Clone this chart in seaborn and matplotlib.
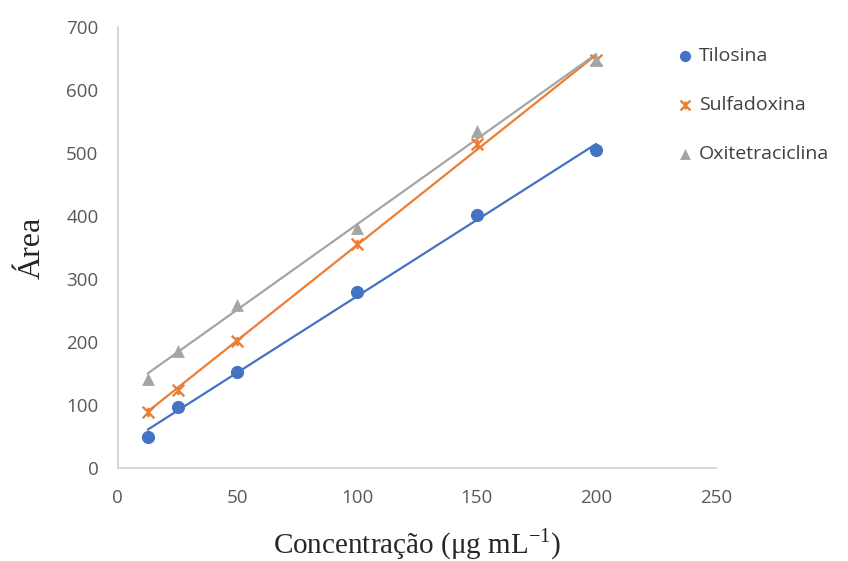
import numpy as np
import pandas as pd
import matplotlib.pyplot as plt
import seaborn as sns
from matplotlib.path import Path

concentracao = [12.5, 25, 50, 100, 150, 200]
tilosina = [49, 97, 152, 279, 401, 505]
sulfadoxina = [89, 124, 202, 356, 514, 648]
oxitetraciclina = [141, 186, 259, 381, 535, 648]

nomes = ['Tilosina', 'Sulfadoxina', 'Oxitetraciclina']
cores = ['#4472C4', '#ED7D31', '#A5A5A5']

df = pd.DataFrame({
    'x': concentracao * 3,
    'y': tilosina + sulfadoxina + oxitetraciclina,
    'serie': [n for n in nomes for _ in concentracao],
})

# excel-like star marker: X with a vertical bar
star = Path([(-1, -1), (1, 1), (-1, 1), (1, -1), (0, -0.8), (0, 0.8)],
            [Path.MOVETO, Path.LINETO, Path.MOVETO, Path.LINETO, Path.MOVETO, Path.LINETO])
marcadores = ['o', star, '^']
tamanhos = [90, 70, 85]

sns.set_style('white')
plt.rcParams['font.family'] = ['Open Sans', 'DejaVu Sans']
plt.rcParams['mathtext.fontset'] = 'custom'
plt.rcParams['mathtext.rm'] = 'Liberation Serif'

fig = plt.figure(figsize=(8.48, 5.61), dpi=100)
ax = fig.add_axes([0.139, 0.166, 0.705, 0.786])

for nome, cor, m, s in zip(nomes, cores, marcadores, tamanhos):
    d = df[df.serie == nome]
    sns.regplot(data=d, x='x', y='y', ax=ax, ci=None, scatter=False,
                line_kws=dict(color=cor, lw=1.6))
    kw = dict(linewidths=1.7) if m is star else dict(linewidth=0)
    ax.scatter(d.x, d.y, marker=m, s=s, color=cor, label=nome, zorder=3, **kw)

ax.set_xlim(0, 250)
ax.set_ylim(0, 700)
ax.set_xticks(range(0, 251, 50))
ax.set_yticks(range(0, 701, 100))
ax.tick_params(length=0, labelsize=13.5, labelcolor='#595959')
ax.tick_params(axis='x', pad=15)
ax.tick_params(axis='y', pad=14)

for sp in ['top', 'right']:
    ax.spines[sp].set_visible(False)
for sp in ['left', 'bottom']:
    ax.spines[sp].set_color('#D0D0D0')
    ax.spines[sp].set_linewidth(1.2)

ax.set_xlabel('Concentração (μg mL$^{\\mathrm{-1}}$)', family='Liberation Serif', fontsize=21, labelpad=14)
ax.set_ylabel('Área', family='Liberation Serif', fontsize=23, labelpad=14)

ax.legend(loc='upper left', bbox_to_anchor=(0.897, 0.995), frameon=False, fontsize=14,
          labelcolor='#404040', handletextpad=0.0, labelspacing=1.6, markerscale=0.85,
          handlelength=1.4)

fig.savefig('out.png', dpi=100)
